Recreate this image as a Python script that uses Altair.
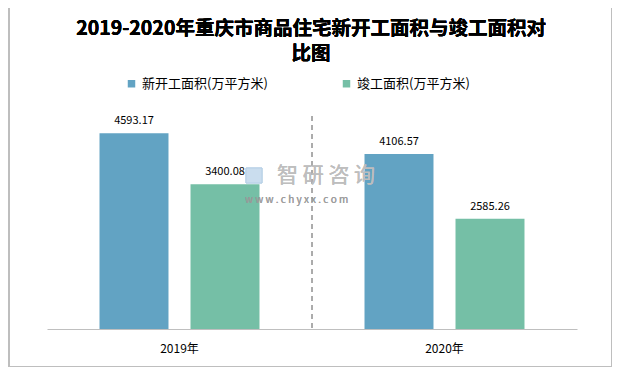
import altair as alt
import pandas as pd

title_lines = ["2019-2020年重庆市商品住宅新开工面积与竣工面积对", "比图"]
years = ["2019年", "2020年"]
series = ["新开工面积(万平方米)", "竣工面积(万平方米)"]
new_start = [4593.17, 4106.57]
completed = [3400.08, 2585.26]
colors = ["#62A3C3", "#75BFA6"]

rows = []
for i, y in enumerate(years):
    rows.append({"year": y, "series": series[0], "value": new_start[i]})
    rows.append({"year": y, "series": series[1], "value": completed[i]})
df = pd.DataFrame(rows)

FONT = "Noto Sans CJK SC"
W, H = 530, 213

base = alt.Chart(df).encode(
    x=alt.X("year:N", sort=years, title=None,
            scale=alt.Scale(paddingInner=0, paddingOuter=0),
            axis=alt.Axis(labelAngle=0, ticks=False, domainColor="#BFBFBF",
                          labelFontSize=12, labelFont=FONT, labelColor="#000000",
                          labelPadding=14)),
    xOffset=alt.XOffset("series:N", sort=series,
                        scale=alt.Scale(paddingInner=0.242, paddingOuter=0.577)),
)

bars = base.mark_bar().encode(
    y=alt.Y("value:Q", scale=alt.Scale(domain=[0, 5000]), axis=None, title=None),
    color=alt.Color("series:N", sort=series,
                    scale=alt.Scale(domain=series, range=colors),
                    legend=alt.Legend(orient="none", legendX=78, legendY=-39,
                                      direction="horizontal", title=None,
                                      symbolType="square", symbolSize=56,
                                      labelFontSize=13, labelFont=FONT, labelOffset=4,
                                      labelColor="#000000", columnPadding=72,
                                      symbolStrokeWidth=0)),
)

labels = base.mark_text(baseline="bottom", dy=-7, fontSize=11, font=FONT,
                        color="#000000").encode(
    y=alt.Y("value:Q"),
    text=alt.Text("value:Q", format=".2f"),
)

sep = alt.Chart(df).mark_rule(color="#A6A6A6", strokeDash=[5, 4], strokeWidth=1).encode(
    x=alt.value(W / 2), y=alt.value(0), y2=alt.value(H)
)

border = alt.Chart(df).mark_rect(fill=None, stroke="#BFBFBF", strokeWidth=1.5,
                                 clip=False).encode(
    x=alt.value(-38), x2=alt.value(W + 35), y=alt.value(-111), y2=alt.value(H + 38)
)

title = alt.Chart(df).mark_text(text=title_lines, fontSize=19.5, font=FONT,
                                fontWeight="bold", color="#000000", align="center",
                                baseline="middle", lineHeight=25).encode(
    x=alt.value(W / 2 - 1), y=alt.value(-87.5)
)

logo = alt.Chart(df).mark_rect(fill="#C9DDEE", opacity=0.6, stroke="#B5CFE6",
                               strokeWidth=1).encode(
    x=alt.value(199), x2=alt.value(215), y=alt.value(52), y2=alt.value(67)
)
wm1 = alt.Chart(df).mark_text(text="智 研 咨 询", fontSize=21, font=FONT,
                              color="#BEBEBE", opacity=0.75, align="left",
                              baseline="middle").encode(
    x=alt.value(230), y=alt.value(60)
)
wm2 = alt.Chart(df).mark_text(text="w  w  w  .  c  h  y  x  x  .  c  o  m", fontSize=10,
                              font=FONT, color="#9A9A9A", opacity=0.6, align="left",
                              baseline="middle").encode(
    x=alt.value(198), y=alt.value(84)
)

chart = alt.layer(border, title, sep, bars, labels, logo, wm1, wm2).properties(
    width=W, height=H,
    autosize=alt.AutoSizeParams(type="none"),
    padding={"left": 39, "top": 108, "right": 35, "bottom": 38},
).configure(background="#FFFFFF").configure_view(strokeWidth=0, stroke="transparent")

chart.save("out.html", embed_options={"renderer": "svg", "actions": False})
